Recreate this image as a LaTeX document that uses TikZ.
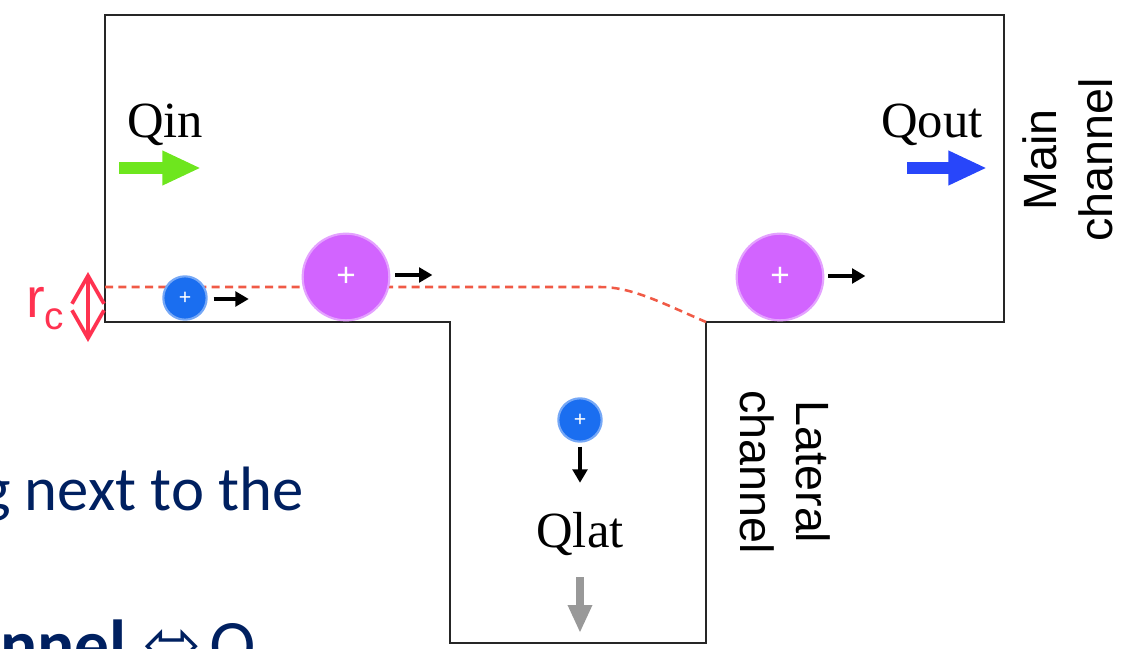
\documentclass[tikz,border=0pt]{standalone}
\usepackage{fontspec}
\setmainfont{Liberation Serif}
\setsansfont{Liberation Sans}
\newfontfamily\slidefont{Carlito}
\newfontfamily\arrowfont{DejaVu Sans}
\usepackage{tikz}
\usetikzlibrary{
        arrows.meta,
        positioning
    }
\definecolor{navy}{HTML}{002060}
\definecolor{ionblue}{HTML}{1A6EF0}
\definecolor{ionpink}{HTML}{D264FF}
\definecolor{ingreen}{HTML}{6EE61E}
\definecolor{outblue}{HTML}{2846FA}
\definecolor{rcred}{HTML}{FF3250}
\definecolor{trackred}{HTML}{F05A46}

\begin{document}
\begin{tikzpicture}
[x=0.75pt, y=-0.75pt,
wall/.style={line width=2.1pt, draw=black!85, line join=miter},
track/.style={draw=trackred, line width=1.9pt, dash pattern=on 6pt off 4pt},
ion/.style={circle, fill=ionblue, draw=ionblue!60!white, line width=1.6pt, minimum size=32.5pt, inner sep=0pt, text=white, font=\sffamily\fontsize{16}{16}\selectfont},
bigion/.style={ion, fill=ionpink, draw=ionpink!60!white, minimum size=65pt, font=\sffamily\fontsize{25}{25}\selectfont},
motion/.style={line width=3.5pt, -{Triangle[length=10pt, width=11pt]}},
flow/.style={line width=9.5pt, -{Triangle[length=29pt, width=24pt]}},
latflow/.style={draw=black!40, line width=6pt, -{Triangle[length=21pt, width=17pt]}},
qlabel/.style={font=\rmfamily\fontsize{38}{38}\selectfont, inner sep=0pt},
chlabel/.style={align=center, font=\sffamily\fontsize{35}{42}\selectfont, inner sep=0pt},
rclabel/.style={text=rcred, font=\sffamily\fontsize{42}{42}\selectfont, inner sep=0pt},
rcgap/.style={draw=rcred, line width=2.8pt, {Straight Barb[length=21pt, width=24pt]}-{Straight Barb[length=21pt, width=24pt]}},
slide/.style={text=navy, font=\slidefont\fontsize{47}{47}\selectfont, inner sep=0pt},
]
    \useasboundingbox (0,0) rectangle (1122,649);
    \clip (0,0) rectangle (1122,649);

    % T-junction walls
    \draw[wall] (105,15) -- (1004,15) -- (1004,322) -- (706,322) -- (706,643) -- (450,643) -- (450,322) -- (105,322) -- cycle;
    \draw[track] (105,287) -- (600,287) .. controls (632,287) and (662,303) .. (706,322);

    \node[ion] (ion1) at (185,298) {+};
    \node[bigion] (big1) at (346,277) {+};
    \node[bigion] (big2) at (780,277) {+};
    \node[ion] (ion2) at (580,420) {+};
    \draw[motion] ([shift={(6,1)}]ion1.east) -- ++(35,0);
    \draw[motion] ([shift={(5,-2)}]big1.east) -- ++(37,0);
    \draw[motion] ([shift={(4,-1)}]big2.east) -- ++(37,0);
    \draw[motion] ([shift={(0,4)}]ion2.south) -- ++(0,36);

    \node[qlabel, anchor=base] (qin) at (165,138) {Qin};
    \node[qlabel, anchor=base] (qout) at (932,138) {Qout};
    \node[qlabel, anchor=base] (qlat) at (580,547) {Qlat};
    \draw[flow, draw=ingreen] ([shift={(-46,30)}]qin.base) -- ++(82,0);
    \draw[flow, draw=outblue] ([shift={(-25,30)}]qout.base) -- ++(80,0);
    \draw[latflow] ([shift={(0,30)}]qlat.base) -- ++(0,56);

    \node[chlabel, rotate=90] (mainlbl) at (1068,160) {Main\\channel};
    \node[chlabel, rotate=-90] (latlbl) at (785,472) {Lateral\\channel};

    \node[rclabel, anchor=base west] (rc) at (26,318) {r\raisebox{-9pt}{\fontsize{29}{29}\selectfont c}};
    \coordinate (rctop) at (88,272);
    \coordinate (rcbot) at (88,342);
    \draw[rcgap] (rctop) -- (rcbot);

    \node[slide, anchor=base west] (line1) at (-19,510) {g next to the};
    \node[slide, anchor=base west, font=\slidefont\fontsize{52}{52}\selectfont] (line2) at (0,668) {\textbf{nnel}\hspace{13pt}{\arrowfont ⬄}\hspace{-6pt} Q};
\end{tikzpicture}
\end{document}
